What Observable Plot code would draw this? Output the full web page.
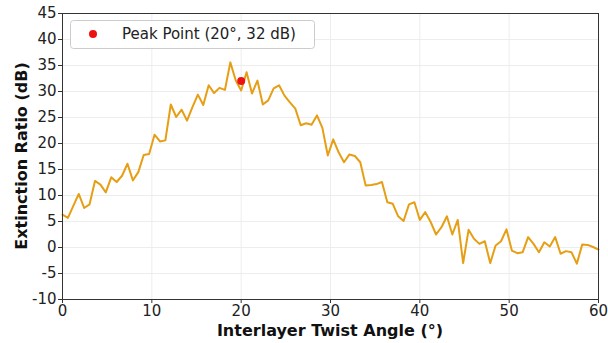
<!DOCTYPE html>
<html>
<head>
<meta charset="utf-8">
<script src="https://cdn.jsdelivr.net/npm/d3@7"></script>
<script src="https://cdn.jsdelivr.net/npm/@observablehq/plot@0.6"></script>
<style>
  html, body { margin: 0; padding: 0; background: #fff; }
  #chart svg { display: block; }
</style>
</head>
<body>
<div id="chart"></div>
<script>
// Extinction ratio sampled at 100 evenly spaced twist angles from 0° to 60°
const extinctionDb = [
  6.3, 5.7, 8.0, 10.3, 7.6, 8.3, 12.8, 12.1, 10.6, 13.5,
  12.6, 13.8, 16.1, 12.9, 14.5, 17.8, 18.0, 21.7, 20.4, 20.6,
  27.5, 25.1, 26.5, 24.4, 27.0, 29.4, 27.4, 31.2, 29.7, 30.7,
  30.3, 35.6, 32.1, 30.2, 33.7, 29.6, 32.1, 27.5, 28.3, 30.6,
  31.2, 29.2, 27.9, 26.7, 23.5, 23.9, 23.6, 25.4, 23.0, 17.7,
  20.8, 18.3, 16.4, 17.9, 17.6, 16.4, 11.9, 12.0, 12.2, 12.6,
  8.7, 8.4, 6.0, 5.1, 8.3, 8.7, 5.3, 6.8, 4.9, 2.5,
  3.9, 6.0, 2.5, 5.3, -3.0, 3.4, 1.7, 0.7, 1.2, -3.0,
  0.4, 1.2, 3.5, -0.6, -1.1, -0.9, 2.0, 0.7, -0.9, 1.0,
  0.2, 2.0, -1.2, -0.7, -0.9, -3.1, 0.6, 0.5, 0.1, -0.4
];
const angleStart = 0;
const angleEnd = 60;
const peakAngle = [20];
const peakDb = [32];
const peakLabel = "Peak Point (20°, 32 dB)";
const xTicks = [0, 10, 20, 30, 40, 50, 60];
const yTicks = [-10, -5, 0, 5, 10, 15, 20, 25, 30, 35, 40, 45];
const xLabel = "Interlayer Twist Angle (°)";
const yLabel = "Extinction Ratio (dB)";

const n = extinctionDb.length;
const series = extinctionDb.map((v, i) => ({
  angle: angleStart + (angleEnd - angleStart) * i / (n - 1),
  db: v
}));
const peak = peakAngle.map((a, i) => ({angle: a, db: peakDb[i]}));

const W = 608, H = 343;
const mL = 62, mR = 10, mT = 13, mB = 44;
const font = "'DejaVu Sans', sans-serif";

const plot = Plot.plot({
  width: W,
  height: H,
  marginLeft: mL,
  marginRight: mR,
  marginTop: mT,
  marginBottom: mB,
  style: {fontFamily: font, fontSize: "15px", color: "#222", background: "#fff"},
  x: {domain: [angleStart, angleEnd], ticks: xTicks, tickFormat: d => String(d), label: null},
  y: {domain: [yTicks[0], yTicks[yTicks.length - 1]], ticks: yTicks, tickFormat: d => String(d), label: null},
  marks: [
    Plot.gridX(xTicks, {stroke: "#e8e8e8", strokeOpacity: 1, strokeWidth: 0.8}),
    Plot.gridY(yTicks, {stroke: "#e8e8e8", strokeOpacity: 1, strokeWidth: 0.8}),
    Plot.axisX(xTicks, {tickSize: 4, tickPadding: 2, tickFormat: d => String(d), label: null, stroke: "#333"}),
    Plot.axisY(yTicks, {tickSize: 4, tickPadding: 2, tickFormat: d => String(d), label: null, stroke: "#333"}),
    Plot.line(series, {x: "angle", y: "db", stroke: "#e69f15", strokeWidth: 2, strokeLinejoin: "round"}),
    Plot.dot(peak, {x: "angle", y: "db", r: 4, fill: "#ee1111", stroke: "none"}),
    Plot.frame({stroke: "#333", strokeWidth: 1})
  ]
});

document.getElementById("chart").appendChild(plot);

// Axis titles and legend box drawn into the same SVG
const svg = d3.select(plot);
const plotCx = mL + (W - mL - mR) / 2;
const plotCy = mT + (H - mT - mB) / 2;

svg.append("text")
  .attr("x", plotCx).attr("y", 336)
  .attr("text-anchor", "middle")
  .style("font-family", font).style("font-size", "16px").style("font-weight", "bold")
  .attr("fill", "#111")
  .text(xLabel);

svg.append("text")
  .attr("transform", `translate(21,${plotCy}) rotate(-90)`)
  .attr("text-anchor", "middle")
  .attr("dy", "0.35em")
  .style("font-family", font).style("font-size", "16px").style("font-weight", "bold")
  .attr("fill", "#111")
  .text(yLabel);

const legend = svg.append("g");
legend.append("rect")
  .attr("x", 70.5).attr("y", 20.5).attr("width", 244).attr("height", 28)
  .attr("rx", 3).attr("fill", "#fff").attr("fill-opacity", 0.9)
  .attr("stroke", "#cccccc").attr("stroke-width", 1);
legend.append("circle")
  .attr("cx", 93).attr("cy", 34).attr("r", 4).attr("fill", "#ee1111");
legend.append("text")
  .attr("x", 122).attr("y", 34).attr("dy", "0.35em")
  .attr("text-anchor", "start")
  .style("font-family", font).style("font-size", "15px")
  .attr("fill", "#222")
  .text(peakLabel);
</script>
</body>
</html>
